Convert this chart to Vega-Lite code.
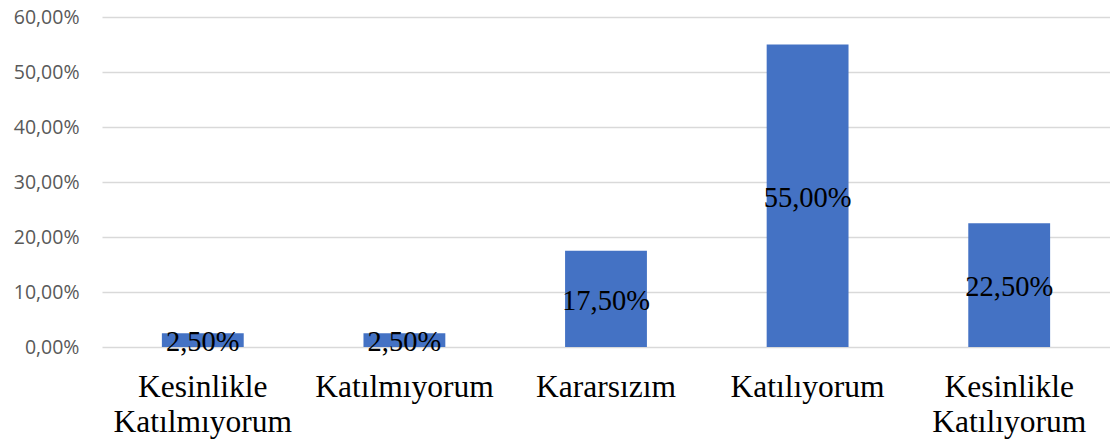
{
  "$schema": "https://vega.github.io/schema/vega-lite/v6.json",
  "width": 1008,
  "height": 330,
  "autosize": {"type": "none"},
  "padding": {"left": 102, "top": 17, "right": 0, "bottom": 96},
  "config": {
    "view": {"stroke": null},
    "locale": {"number": {"decimal": ",", "thousands": ".", "grouping": [3], "currency": ["", " ₺"]}}
  },
  "data": {
    "values": [
      {"kategori": "Kesinlikle Katılmıyorum", "oran": 0.025},
      {"kategori": "Katılmıyorum", "oran": 0.025},
      {"kategori": "Kararsızım", "oran": 0.175},
      {"kategori": "Katılıyorum", "oran": 0.55},
      {"kategori": "Kesinlikle Katılıyorum", "oran": 0.225}
    ]
  },
  "encoding": {
    "x": {
      "field": "kategori",
      "type": "nominal",
      "sort": null,
      "scale": {"paddingInner": 0.594, "paddingOuter": 0.297},
      "axis": {
        "title": null,
        "labelAngle": 0,
        "labelExpr": "split(datum.label, ' ')",
        "labelFont": "Liberation Serif",
        "labelFontSize": 31.5,
        "labelColor": "#000000",
        "labelPadding": 24,
        "labelLineHeight": 35,
        "ticks": false,
        "domain": false,
        "labelLimit": 300
      }
    }
  },
  "layer": [
    {
      "mark": {"type": "bar", "color": "#4472C4"},
      "encoding": {
        "y": {
          "field": "oran",
          "type": "quantitative",
          "scale": {"domain": [0, 0.6], "nice": false},
          "axis": {
            "title": null,
            "values": [0, 0.1, 0.2, 0.3, 0.4, 0.5, 0.6],
            "format": ".2%",
            "labelFont": "Open Sans",
            "labelFontSize": 19.5,
            "labelColor": "#595959",
            "labelPadding": 23,
            "ticks": false,
            "domain": false,
            "gridColor": "#d9d9d9",
            "gridWidth": 1.3
          }
        }
      }
    },
    {
      "mark": {"type": "text", "font": "Liberation Serif", "fontSize": 28.5, "color": "#000000", "baseline": "middle", "dy": 2},
      "encoding": {
        "y": {"field": "oran", "type": "quantitative", "scale": {"domain": [0, 1.2], "nice": false}, "axis": null},
        "text": {"field": "oran", "type": "quantitative", "format": ".2%"}
      }
    }
  ],
  "resolve": {"scale": {"y": "independent"}}
}
